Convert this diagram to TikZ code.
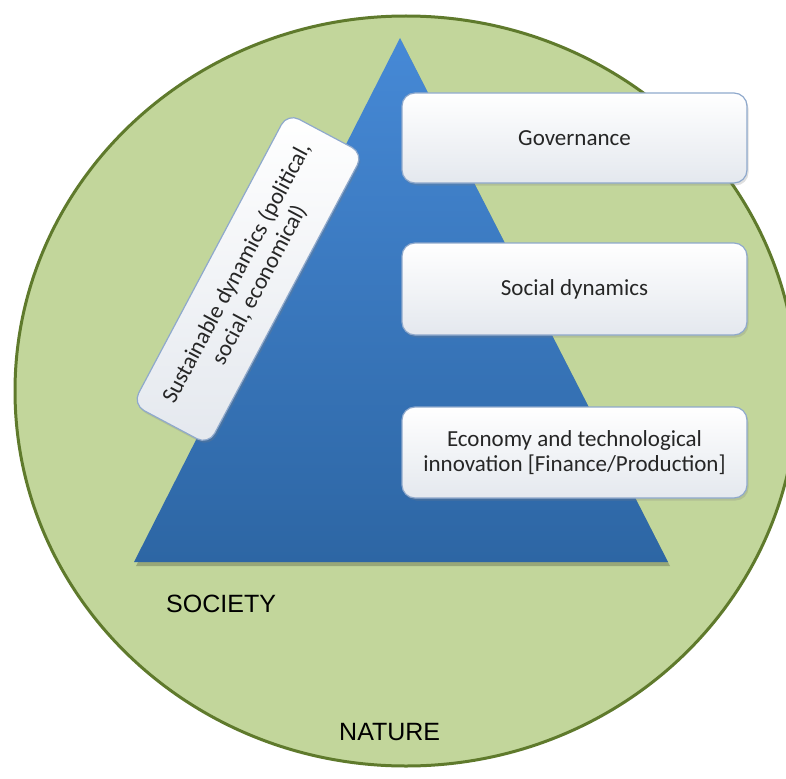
\documentclass[tikz,border=0pt]{standalone}
\usepackage{fontspec}
\setmainfont{Carlito}
\newfontfamily\arialfont{Liberation Sans}
\usetikzlibrary{shadows}
\definecolor{natfill}{HTML}{C2D69B}
\definecolor{natline}{HTML}{5F7A2C}
\definecolor{bluetop}{HTML}{4689D6}
\definecolor{bluebot}{HTML}{2D66A4}
\definecolor{boxline}{HTML}{8FA9CC}
\definecolor{boxfill}{HTML}{E4E8EE}
\definecolor{boxtext}{HTML}{262626}
\begin{document}
\begin{tikzpicture}[x=1pt,y=-1pt,
  layerbox/.style={draw=boxline, line width=1.2pt, rounded corners=13pt,
    top color=white, bottom color=boxfill, text=boxtext,
    font=\fontsize{23}{25.5}\selectfont, align=center, inner sep=2pt,
    drop shadow={shadow xshift=1.5pt, shadow yshift=-2.5pt, opacity=0.25}},
  bigword/.style={font=\arialfont\fontsize{25}{28}\selectfont, text=black,
    inner sep=0pt, anchor=base west}
]
\useasboundingbox (0,0) rectangle (786,778);
\clip (0,0) rectangle (786,778);
% nature
\filldraw[fill=natfill, draw=natline, line width=3pt] (406,391) ellipse [x radius=391pt, y radius=375pt];
% society pyramid
\coordinate (apex) at (400,38);
\coordinate (bl) at (134,562);
\coordinate (br) at (668,562);
\fill[black, opacity=0.22] ([shift={(2,4)}]apex) -- ([shift={(2,4)}]br) -- ([shift={(2,4)}]bl) -- cycle;
\shade[top color=bluetop, bottom color=bluebot] (apex) -- (br) -- (bl) -- cycle;
% layers
\node[layerbox, minimum width=345pt, minimum height=90pt] (gov) at (574.5,138) {Governance};
\node[layerbox, minimum width=345pt, minimum height=92pt] (soc) at (574.5,289) {Social dynamics};
\node[layerbox, minimum width=345pt, minimum height=91pt] (eco) at (574.5,452.5) {Economy and technological\\innovation [Finance/Production]};
\node[layerbox, rotate=62, minimum width=330pt, minimum height=86pt] (sust) at (248,279) {Sustainable dynamics (political,\\social, economical)};
% labels
\node[bigword] (society) at (166,612) {SOCIETY};
\node[bigword] (nature) at (339,740) {NATURE};
\end{tikzpicture}
\end{document}
